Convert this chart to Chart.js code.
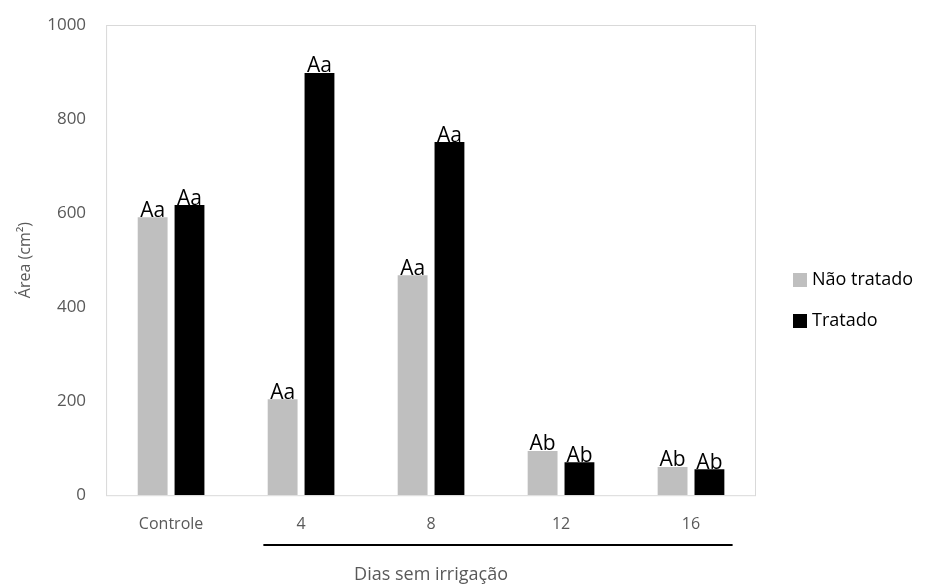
<!DOCTYPE html>
<html>
<head>
<meta charset="utf-8">
<script src="https://cdn.jsdelivr.net/npm/chart.js@4/dist/chart.umd.min.js"></script>
<style>
  body { margin: 0; background: #fff; }
  .wrap { position: relative; width: 927px; height: 586px; }
  .legend { position: absolute; left: 793px; top: 266px; font-family: "Open Sans", sans-serif; font-size: 18px; color: #000; }
  .legend div { height: 41px; display: flex; align-items: flex-start; white-space: nowrap; }
  .legend span.box { display: inline-block; width: 14px; height: 14px; margin-right: 5px; margin-top: 7px; }
</style>
</head>
<body>
<div class="wrap">
  <canvas id="myChart" width="927" height="586"></canvas>
  <div class="legend">
    <div><span class="box" style="background:#bfbfbf"></span>Não tratado</div>
    <div><span class="box" style="background:#000"></span>Tratado</div>
  </div>
</div>
<script>
// dados
const categorias = ["Controle", "4", "8", "12", "16"];
const naoTratado = [591, 204, 468, 94, 60];
const tratado = [617, 898, 751, 70, 55];
const letrasNaoTratado = ["Aa", "Aa", "Aa", "Ab", "Ab"];
const letrasTratado = ["Aa", "Aa", "Aa", "Ab", "Ab"];
const yTicks = [0, 200, 400, 600, 800, 1000];

const fonte = "'Open Sans', sans-serif";

// letras em cima das barras + caixa do grafico + linha do eixo x
const extras = {
  id: "extras",
  afterDatasetsDraw(chart) {
    const ctx = chart.ctx;
    const area = chart.chartArea;
    ctx.save();
    ctx.strokeStyle = "#d9d9d9";
    ctx.lineWidth = 1;
    ctx.strokeRect(area.left + 0.5, area.top + 0.5, area.right - area.left - 1, area.bottom - area.top);

    ctx.fillStyle = "#000";
    ctx.font = "21px " + fonte;
    ctx.textAlign = "center";
    ctx.textBaseline = "bottom";
    [letrasNaoTratado, letrasTratado].forEach((letras, d) => {
      chart.getDatasetMeta(d).data.forEach((bar, i) => {
        ctx.fillText(letras[i], bar.x, bar.y + 4);
      });
    });

    // linha abaixo dos dias
    const x = chart.scales.x;
    const w = x.getPixelForValue(1) - x.getPixelForValue(0);
    ctx.strokeStyle = "#000";
    ctx.lineWidth = 2;
    ctx.beginPath();
    ctx.moveTo(x.getPixelForValue(1) - w * 0.29, 545);
    ctx.lineTo(x.getPixelForValue(4) + w * 0.32, 545);
    ctx.stroke();
    ctx.restore();
  },
};

const data = {
  labels: categorias,
  datasets: [
    { label: "Não tratado", data: naoTratado, backgroundColor: "#bfbfbf" },
    { label: "Tratado", data: tratado, backgroundColor: "#000000" },
  ],
};

const config = {
  type: "bar",
  data: data,
  plugins: [extras],
  options: {
    responsive: false,
    animation: false,
    layout: { padding: { left: 16, right: 171, top: 25, bottom: 0 } },
    datasets: { bar: { categoryPercentage: 0.567, barPercentage: 0.81 } },
    plugins: { legend: { display: false }, tooltip: { enabled: false } },
    scales: {
      x: {
        grid: { display: false },
        border: { display: false },
        ticks: { color: "#595959", font: { family: fonte, size: 16 }, padding: 12 },
        title: {
          display: true,
          text: "Dias sem irrigação",
          color: "#595959",
          font: { family: fonte, size: 18 },
          padding: { top: 18, bottom: 0 },
        },
      },
      y: {
        min: 0,
        max: 1000,
        afterBuildTicks: (axis) => {
          axis.ticks = yTicks.map((v) => ({ value: v }));
        },
        grid: { display: false },
        border: { display: false },
        ticks: { color: "#595959", font: { family: fonte, size: 17 }, padding: 12, callback: (v) => String(v) },
        title: {
          display: true,
          text: "Área (cm²)",
          color: "#595959",
          font: { family: fonte, size: 16 },
          padding: { top: 0, bottom: 0 },
        },
      },
    },
  },
};

var myChart = new Chart(document.getElementById("myChart"), config);
</script>
</body>
</html>
